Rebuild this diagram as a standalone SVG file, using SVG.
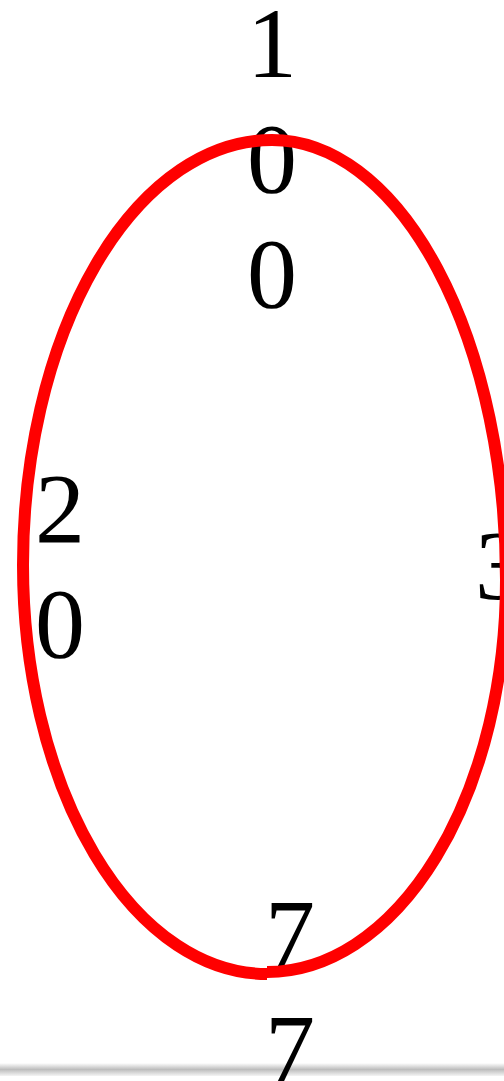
<svg xmlns="http://www.w3.org/2000/svg" width="504" height="1081" viewBox="0 0 504 1081">
  <defs>
    <linearGradient id="band" x1="0" y1="0" x2="0" y2="1">
      <stop offset="0" stop-color="#ffffff"/>
      <stop offset="0.5" stop-color="#bdbdbd"/>
      <stop offset="1" stop-color="#f4f4f4"/>
    </linearGradient>
  </defs>
  <style>
    .lbl { font-family: "Liberation Serif", "Times New Roman", serif; font-size: 100px; fill: #000; text-anchor: middle; }
    .arc { fill: none; stroke: #ff0000; stroke-width: 12; stroke-linecap: butt; }
  </style>
  <rect x="0" y="0" width="504" height="1081" fill="#ffffff"/>
  <rect x="0" y="1063" width="504" height="13" fill="url(#band)"/>
  <g id="labels">
    <g id="label-top">
      <text class="lbl" x="272" y="77"><tspan x="272" y="77">1</tspan><tspan x="272" y="192">0</tspan><tspan x="272" y="307">0</tspan></text>
    </g>
    <g id="label-left">
      <text class="lbl" x="60" y="542"><tspan x="60" y="542">2</tspan><tspan x="60" y="657">0</tspan></text>
    </g>
    <g id="label-right">
      <text class="lbl" x="500" y="599">3</text>
    </g>
    <g id="label-bottom">
      <text class="lbl" x="290" y="968"><tspan x="290" y="968">7</tspan><tspan x="290" y="1083">7</tspan></text>
    </g>
  </g>
  <g id="shape">
    <path class="arc" d="M 272 140 A 249 425 0 0 0 23 565"/>
    <path class="arc" d="M 23 565 A 244 409 0 0 0 267 974"/>
    <path class="arc" d="M 267 972 A 239 392 0 0 0 506 580"/>
    <path class="arc" d="M 506 580 A 234 440 0 0 0 272 140"/>
  </g>
</svg>
